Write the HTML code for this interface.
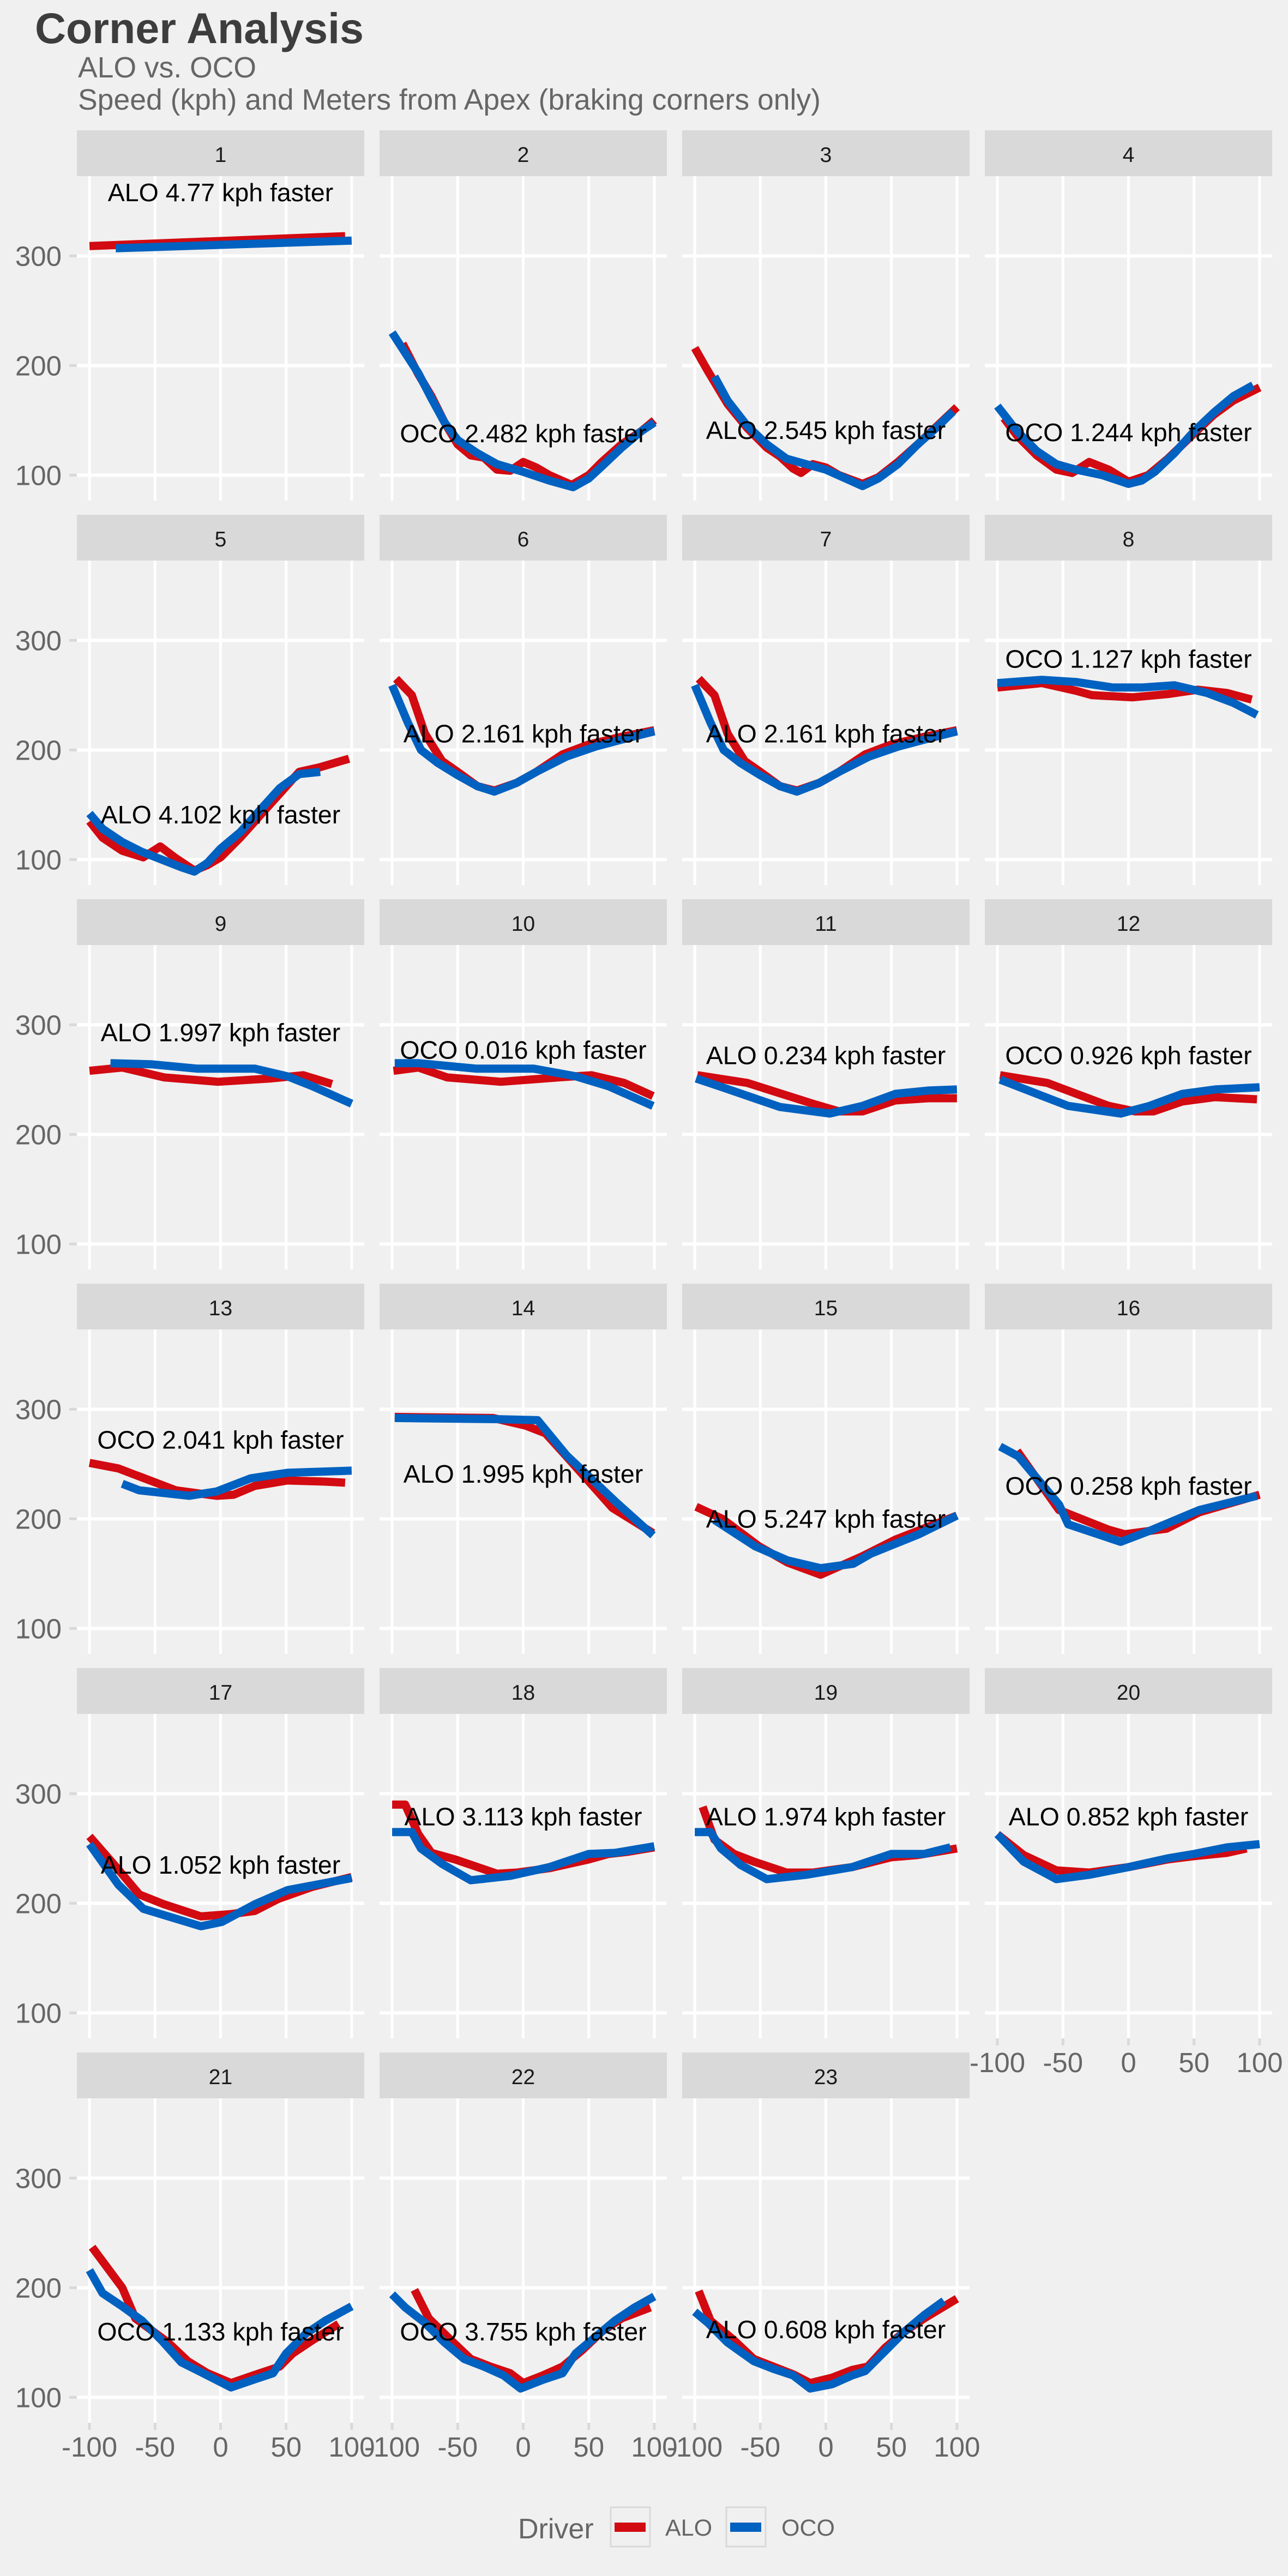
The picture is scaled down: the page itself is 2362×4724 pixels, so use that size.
<!DOCTYPE html>
<html><head><meta charset="utf-8"><title>Corner Analysis</title>
<style>
html,body{margin:0;padding:0;background:#f0f0f0;}
svg{display:block;font-family:"Liberation Sans",Arial,sans-serif;}
</style></head>
<body>
<svg id="chart" width="2362" height="4724" viewBox="0 0 2362 4724" xmlns="http://www.w3.org/2000/svg">
<rect x="0" y="0" width="2362" height="4724" fill="#f0f0f0"/>
<text x="64" y="79" font-size="79" font-weight="bold" fill="#3d3d3d">Corner Analysis</text>
<text x="143" y="142" font-size="53.5" fill="#666666">ALO vs. OCO</text>
<text x="143" y="201" font-size="53.5" fill="#666666">Speed (kph) and Meters from Apex (braking corners only)</text>
<g id="panels"></g>
<g>
  <text x="950" y="4655" font-size="52" fill="#666666">Driver</text>
  <rect x="1120" y="4598" width="72" height="72" fill="#f0f0f0" stroke="#d9d9d9" stroke-width="3"/>
  <rect x="1127" y="4626" width="57" height="17" fill="#d20a11"/>
  <text x="1220" y="4650" font-size="43" fill="#666666">ALO</text>
  <rect x="1332" y="4598" width="72" height="72" fill="#f0f0f0" stroke="#d9d9d9" stroke-width="3"/>
  <rect x="1339" y="4626" width="57" height="17" fill="#0061c0"/>
  <text x="1433" y="4650" font-size="43" fill="#666666">OCO</text>
</g>
</svg>
<script>
const cornerLabels = ["1","2","3","4","5","6","7","8","9","10","11","12","13","14","15","16","17","18","19","20","21","22","23"];
const annotationText = ["ALO 4.77 kph faster","OCO 2.482 kph faster","ALO 2.545 kph faster","OCO 1.244 kph faster","ALO 4.102 kph faster","ALO 2.161 kph faster","ALO 2.161 kph faster","OCO 1.127 kph faster","ALO 1.997 kph faster","OCO 0.016 kph faster","ALO 0.234 kph faster","OCO 0.926 kph faster","OCO 2.041 kph faster","ALO 1.995 kph faster","ALO 5.247 kph faster","OCO 0.258 kph faster","ALO 1.052 kph faster","ALO 3.113 kph faster","ALO 1.974 kph faster","ALO 0.852 kph faster","OCO 1.133 kph faster","OCO 3.755 kph faster","ALO 0.608 kph faster"];
const annotationY = [350,130,133,131,133,207,207,275,285,269,264,264,264,233,192,222,227,271,271,271,152,152,154];
const yTicks = [100,200,300];
const xTicks = [-100,-50,0,50,100];
const xTickLabels = ["-100","-50","0","50","100"];
const aloSeries = [
 [[-100,309],[95,318]],
 [[-92,220],[-80,192],[-70,172],[-60,148],[-50,128],[-40,118],[-30,116],[-20,105],[-10,104],[0,112],[10,107],[20,100],[37,91],[50,100],[60,112],[75,128],[90,140],[100,150]],
 [[-100,216],[-90,195],[-75,165],[-60,143],[-45,125],[-35,117],[-25,106],[-19,102],[-10,110],[0,107],[10,100],[28,92],[40,98],[55,112],[70,128],[85,145],[100,162]],
 [[-95,152],[-85,136],[-70,118],[-55,105],[-43,102],[-30,112],[-15,105],[0,94],[15,100],[30,115],[50,138],[65,155],[80,168],[100,180]],
 [[-100,135],[-90,120],[-75,108],[-59,102],[-46,112],[-35,102],[-20,90],[-10,95],[0,102],[15,120],[30,140],[45,160],[60,180],[75,184],[98,192]],
 [[-97,265],[-85,250],[-75,215],[-62,190],[-50,180],[-35,167],[-22,163],[-5,170],[10,180],[30,196],[50,205],[75,212],[100,218]],
 [[-97,265],[-85,250],[-75,215],[-62,190],[-50,180],[-35,167],[-22,163],[-5,170],[10,180],[30,196],[50,205],[75,212],[100,218]],
 [[-100,257],[-66,261],[-40,254],[-28,250],[3,248],[30,251],[53,255],[75,252],[94,246]],
 [[-100,258],[-75,261],[-43,252],[-2,248],[38,251],[63,254],[85,246]],
 [[-99,258],[-80,261],[-58,252],[-17,248],[27,252],[52,254],[77,247],[99,235]],
 [[-98,254],[-60,247],[-10,228],[10,221],[28,221],[53,231],[78,233],[100,233]],
 [[-98,254],[-62,247],[-15,226],[5,221],[19,221],[41,230],[66,234],[98,232]],
 [[-100,251],[-78,246],[-34,226],[-3,221],[10,222],[26,230],[51,235],[79,234],[95,233]],
 [[-98,293],[-23,292],[2,285],[17,278],[33,257],[68,210],[99,187]],
 [[-99,211],[-79,200],[-51,175],[-29,160],[-4,149],[28,166],[53,181],[100,203]],
 [[-85,262],[-53,208],[-15,190],[-3,186],[29,191],[54,206],[100,222]],
 [[-100,261],[-81,235],[-62,208],[-43,199],[-15,188],[7,190],[26,193],[44,204],[70,215],[100,224]],
 [[-100,290],[-90,290],[-80,263],[-70,246],[-52,240],[-20,227],[-5,228],[20,232],[50,240],[65,245],[80,247],[100,251]],
 [[-94,288],[-85,258],[-70,245],[-55,238],[-30,228],[-10,228],[20,233],[50,242],[70,244],[100,250]],
 [[-100,263],[-80,244],[-55,230],[-30,228],[0,233],[30,240],[50,243],[75,246],[90,250]],
 [[-98,237],[-75,200],[-65,172],[-40,150],[-25,133],[-10,122],[8,113],[25,120],[45,128],[55,140],[70,152],[90,167]],
 [[-83,198],[-72,172],[-55,152],[-40,135],[-25,128],[-10,122],[0,113],[15,120],[30,128],[45,143],[60,160],[75,172],[97,182]],
 [[-97,197],[-88,170],[-70,152],[-55,135],[-40,128],[-25,121],[-12,113],[5,118],[20,125],[32,128],[45,145],[60,160],[75,172],[100,190]]
];
const ocoSeries = [
 [[-80,307],[100,314]],
 [[-100,230],[-80,193],[-70,170],[-60,148],[-50,132],[-35,120],[-20,110],[0,103],[20,95],[38,89],[50,97],[60,108],[75,125],[90,140],[100,148]],
 [[-85,190],[-75,168],[-60,145],[-45,128],[-30,115],[-15,110],[0,105],[15,97],[28,90],[40,97],[55,110],[70,128],[85,144],[97,158]],
 [[-100,163],[-85,140],[-70,122],[-55,110],[-40,105],[-20,100],[0,92],[10,95],[20,103],[35,120],[50,140],[65,157],[80,172],[95,182]],
 [[-100,142],[-90,128],[-75,116],[-60,107],[-45,100],[-30,93],[-20,89],[-10,97],[0,110],[15,125],[30,145],[45,165],[60,178],[76,180]],
 [[-100,259],[-88,225],[-78,200],[-65,188],[-50,177],[-35,167],[-22,162],[-5,170],[10,180],[33,194],[55,203],[80,211],[100,217]],
 [[-100,259],[-88,225],[-78,200],[-65,188],[-50,177],[-35,167],[-22,162],[-5,170],[10,180],[33,194],[55,203],[80,211],[100,217]],
 [[-100,261],[-66,264],[-40,262],[-12,257],[10,257],[35,259],[60,252],[80,243],[98,232]],
 [[-84,265],[-53,264],[-18,260],[26,260],[51,253],[70,244],[100,228]],
 [[-98,265],[-80,265],[-36,260],[8,260],[40,253],[65,244],[99,226]],
 [[-99,251],[-79,243],[-35,225],[3,219],[28,226],[53,237],[78,240],[100,241]],
 [[-98,250],[-46,226],[-6,219],[16,226],[41,237],[66,241],[100,243]],
 [[-75,232],[-62,226],[-24,221],[-3,225],[23,237],[51,242],[100,244]],
 [[-98,292],[-23,291],[11,290],[33,258],[71,215],[99,185]],
 [[-85,199],[-54,175],[-29,162],[-4,155],[21,159],[34,168],[71,186],[100,203]],
 [[-98,266],[-84,257],[-53,213],[-46,195],[-6,179],[16,189],[54,208],[98,221]],
 [[-100,254],[-78,217],[-59,195],[-15,179],[1,183],[26,199],[51,212],[100,223]],
 [[-100,265],[-85,265],[-78,250],[-62,236],[-40,221],[-10,225],[20,233],[50,245],[70,246],[100,252]],
 [[-100,265],[-88,265],[-80,250],[-65,235],[-45,222],[-15,226],[20,233],[50,245],[75,245],[95,251]],
 [[-100,263],[-80,238],[-55,222],[-30,226],[0,233],[30,241],[50,245],[75,251],[100,254]],
 [[-100,216],[-90,195],[-75,183],[-60,170],[-45,152],[-30,132],[-15,123],[8,109],[25,116],[40,122],[50,140],[65,158],[80,170],[100,183]],
 [[-100,194],[-90,182],[-75,168],[-60,150],[-45,135],[-30,128],[-15,120],[-2,108],[15,116],[30,122],[40,140],[55,155],[70,170],[85,182],[100,192]],
 [[-100,178],[-90,168],[-75,150],[-55,133],[-40,126],[-25,120],[-12,108],[5,112],[20,120],[30,124],[45,142],[60,160],[75,175],[90,188]]
];

const NS = "http://www.w3.org/2000/svg";
const colX = [141, 696, 1251, 1806];
const panelW = 527, stripH = 84, plotH = 595, rowPitch = 705, firstStrip = 239;
const yMax = 372.8, yPx = 2.01, xPx = 2.404;
function mk(tag, attrs, parent){ const e=document.createElementNS(NS,tag); for(const k in attrs) e.setAttribute(k,attrs[k]); parent.appendChild(e); return e; }
function xScale(col,u){ return colX[col] + panelW/2 + u*xPx; }
function yScale(row,v){ return firstStrip + row*rowPitch + stripH + (yMax - v)*yPx; }
const root = document.getElementById('panels');
const nPanels = cornerLabels.length;
for(let i=0;i<nPanels;i++){
  const row = Math.floor(i/4), col = i%4;
  const sTop = firstStrip + row*rowPitch, pTop = sTop + stripH, pBot = pTop + plotH;
  const g = mk('g',{},root);
  
  
  const strip = mk('rect',{x:colX[col],y:sTop,width:panelW,height:stripH,fill:'#d9d9d9'},g);
  
  
  const st = mk('text',{x:colX[col]+panelW/2,y:sTop+58,'font-size':39,fill:'#1a1a1a','text-anchor':'middle'},g);
  st.textContent = cornerLabels[i];
  
  
  yTicks.forEach(v=>{
    const y = yScale(row,v);
    const gl = mk('line',{x1:colX[col],x2:colX[col]+panelW,y1:y,y2:y,stroke:'#ffffff','stroke-width':6},g);
    
    
  });
  xTicks.forEach(u=>{
    const x = xScale(col,u);
    const gl = mk('line',{x1:x,x2:x,y1:pTop,y2:pBot,stroke:'#ffffff','stroke-width':5},g);
    
    
  });
  if(col===0){
    yTicks.forEach(v=>{
      const y = yScale(row,v);
      const tk = mk('line',{x1:127,x2:141,y1:y,y2:y,stroke:'#d9d9d9','stroke-width':5},g);
      
      
      const tl = mk('text',{x:113,y:y+18,'font-size':51,fill:'#666666','text-anchor':'end'},g);
      tl.textContent = String(v);
      
      
    });
  }
  if(i + 4 >= nPanels){
    xTicks.forEach((u,k)=>{
      const x = xScale(col,u);
      const tk = mk('line',{x1:x,x2:x,y1:pBot,y2:pBot+13,stroke:'#d9d9d9','stroke-width':5},g);
      
      
      const tl = mk('text',{x:x,y:pBot+62,'font-size':51,fill:'#666666','text-anchor':'middle'},g);
      tl.textContent = xTickLabels[k];
      
      
    });
  }
  const clipId = 'clip'+i;
  const cp = mk('clipPath',{id:clipId},g);
  mk('rect',{x:colX[col],y:pTop,width:panelW,height:plotH},cp);
  [[aloSeries[i],'#d20a11','alo'],[ocoSeries[i],'#0061c0','oco']].forEach(s=>{
    const d = s[0].map((p,k)=>(k?'L':'M')+xScale(col,p[0]).toFixed(1)+' '+yScale(row,p[1]).toFixed(1)).join(' ');
    const path = mk('path',{d:d,fill:'none',stroke:s[1],'stroke-width':15,'stroke-linejoin':'round','clip-path':'url(#'+clipId+')'},g);
    
    
  });
  const at = mk('text',{x:xScale(col,0),y:yScale(row,annotationY[i]),'font-size':46.5,fill:'#000000','text-anchor':'middle'},g);
  at.textContent = annotationText[i];
  
  
}
</script>
</body></html>
